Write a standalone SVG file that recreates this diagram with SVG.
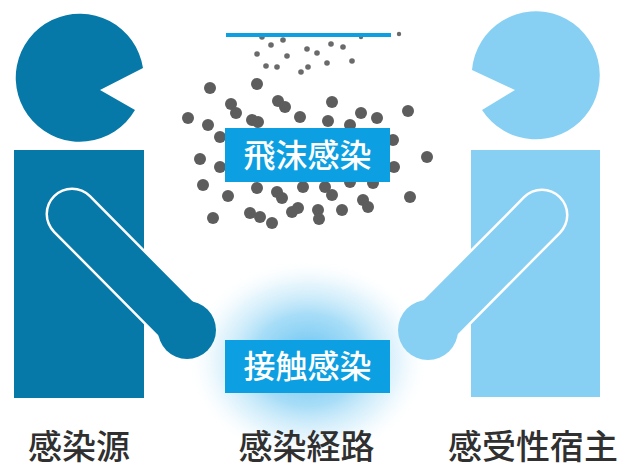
<svg xmlns="http://www.w3.org/2000/svg" width="627" height="470" viewBox="0 0 627 470">
  <style>
    .src { fill: #0679a8; }
    .host { fill: #88d0f3; }
    .tag { fill: #0ca0e2; }
    .tag-text { font-family: "Noto Sans CJK JP", "Noto Sans CJK SC", sans-serif; font-size: 32px; font-weight: 500; fill: #ffffff; text-anchor: middle; }
    .caption { font-family: "Noto Sans CJK JP", "Noto Sans CJK SC", sans-serif; font-size: 34px; font-weight: 500; fill: #303030; text-anchor: middle; }
    .drop-l { fill: #5d5d5d; }
    .drop-s { fill: #6a6a6a; }
    .arm-edge { fill: none; stroke: #ffffff; stroke-width: 53; stroke-linecap: round; }
  </style>
  <defs>
    <radialGradient id="contactGlow" cx="0.5" cy="0.5" r="0.5">
      <stop offset="0" stop-color="#45b5ee" stop-opacity="0.85"/>
      <stop offset="0.45" stop-color="#6cc6f2" stop-opacity="0.6"/>
      <stop offset="0.75" stop-color="#aadef7" stop-opacity="0.3"/>
      <stop offset="1" stop-color="#ffffff" stop-opacity="0"/>
    </radialGradient>
  </defs>

  <rect width="627" height="470" fill="#ffffff"/>

  <!-- routes between source and host: contact glow and droplet spray -->
  <g id="connectors">
    <ellipse cx="308" cy="360" rx="122" ry="102" fill="url(#contactGlow)"/>
    <g id="spray-fine" class="drop-s">
      <circle cx="262" cy="37" r="2.8"/>
      <circle cx="283" cy="40" r="2.8"/>
      <circle cx="271" cy="45" r="2.8"/>
      <circle cx="307" cy="49" r="2.8"/>
      <circle cx="331" cy="44" r="2.8"/>
      <circle cx="343" cy="47" r="2.8"/>
      <circle cx="317" cy="53" r="2.8"/>
      <circle cx="257" cy="54" r="2.8"/>
      <circle cx="287" cy="56" r="2.8"/>
      <circle cx="352" cy="61" r="2.8"/>
      <circle cx="266" cy="66" r="2.8"/>
      <circle cx="277" cy="67" r="2.8"/>
      <circle cx="327" cy="63" r="2.8"/>
      <circle cx="308" cy="67" r="2.8"/>
      <circle cx="301" cy="72" r="2.8"/>
      <circle cx="361" cy="37" r="2.2"/>
      <circle cx="399" cy="34" r="2.2"/>
    </g>
    <g id="spray-coarse" class="drop-l">
      <circle cx="210" cy="88" r="6"/>
      <circle cx="257" cy="84" r="6"/>
      <circle cx="231" cy="104" r="6"/>
      <circle cx="236" cy="113" r="6"/>
      <circle cx="278" cy="101" r="6"/>
      <circle cx="285" cy="107" r="6"/>
      <circle cx="332" cy="102" r="6"/>
      <circle cx="188" cy="118" r="6"/>
      <circle cx="208" cy="125" r="6"/>
      <circle cx="252" cy="120" r="6"/>
      <circle cx="258" cy="122" r="6"/>
      <circle cx="300" cy="117" r="6"/>
      <circle cx="328" cy="121" r="6"/>
      <circle cx="350" cy="125" r="6"/>
      <circle cx="361" cy="113" r="6"/>
      <circle cx="377" cy="118" r="6"/>
      <circle cx="408" cy="111" r="6"/>
      <circle cx="220" cy="137" r="6"/>
      <circle cx="393" cy="140" r="6"/>
      <circle cx="427" cy="157" r="6"/>
      <circle cx="200" cy="159" r="6"/>
      <circle cx="220" cy="167" r="6"/>
      <circle cx="394" cy="167" r="6"/>
      <circle cx="203" cy="185" r="6"/>
      <circle cx="257" cy="188" r="6"/>
      <circle cx="277" cy="192" r="6"/>
      <circle cx="282" cy="198" r="6"/>
      <circle cx="303" cy="187" r="6"/>
      <circle cx="325" cy="187" r="6"/>
      <circle cx="332" cy="195" r="6"/>
      <circle cx="350" cy="182" r="6"/>
      <circle cx="373" cy="183" r="6"/>
      <circle cx="228" cy="196" r="6"/>
      <circle cx="410" cy="197" r="6"/>
      <circle cx="363" cy="200" r="6"/>
      <circle cx="368" cy="207" r="6"/>
      <circle cx="250" cy="213" r="6"/>
      <circle cx="260" cy="217" r="6"/>
      <circle cx="272" cy="223" r="6"/>
      <circle cx="292" cy="212" r="6"/>
      <circle cx="298" cy="208" r="6"/>
      <circle cx="318" cy="210" r="6"/>
      <circle cx="319" cy="219" r="6"/>
      <circle cx="342" cy="210" r="6"/>
      <circle cx="213" cy="218" r="6"/>
    </g>
    <rect class="tag" x="226" y="33" width="165" height="4"/>
  </g>

  <!-- infection source figure -->
  <g id="source">
    <path class="src" d="M 100 90 L 143 68 A 64 64 0 1 0 135 110 Z"/>
    <rect class="src" x="14" y="150" width="130" height="248"/>
    <path class="arm-edge" d="M 72 214 L 187 330"/>
    <path d="M 72 214 L 187 330" fill="none" stroke="#0679a8" stroke-width="48" stroke-linecap="round"/>
    <circle class="src" cx="187" cy="330" r="29"/>
  </g>

  <!-- susceptible host figure -->
  <g id="host">
    <path class="host" d="M 515 90 L 472 70 A 64 64 0 1 1 482 110 Z"/>
    <rect class="host" x="471" y="150" width="129" height="247"/>
    <path class="arm-edge" d="M 542 215 L 428 330"/>
    <path d="M 542 215 L 428 330" fill="none" stroke="#88d0f3" stroke-width="48" stroke-linecap="round"/>
    <circle class="host" cx="428" cy="330" r="30"/>
  </g>

  <!-- route labels -->
  <g id="droplet">
    <rect class="tag" x="225" y="128" width="165" height="54"/>
    <text class="tag-text" x="307.5" y="167">飛沫感染</text>
  </g>
  <g id="contact">
    <rect class="tag" x="225" y="340" width="165" height="53"/>
    <text class="tag-text" x="307.5" y="378">接触感染</text>
  </g>

  <!-- captions -->
  <g id="caption-source"><text class="caption" x="79" y="459">感染源</text></g>
  <g id="caption-route"><text class="caption" x="306.5" y="459">感染経路</text></g>
  <g id="caption-host"><text class="caption" x="533" y="459">感受性宿主</text></g>
</svg>
